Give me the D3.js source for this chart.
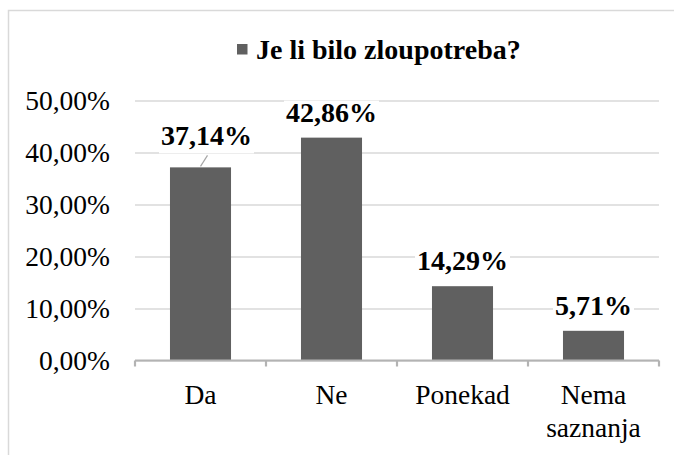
<!DOCTYPE html>
<html>
<head>
<meta charset="utf-8">
<script src="https://cdn.jsdelivr.net/npm/d3@7"></script>
<style>
  html, body { margin: 0; padding: 0; background: #fff; }
  svg { display: block; font-family: "Liberation Serif", "Times New Roman", serif; }
</style>
</head>
<body>
<div id="chart"></div>
<script>
// data
const categories = ["Da", "Ne", "Ponekad", "Nema saznanja"];
const values = [37.14, 42.86, 14.29, 5.71];
const yTicks = [0, 10, 20, 30, 40, 50];
const seriesName = "Je li bilo zloupotreba?";

const width = 674, height = 455;
const barColor = "#606060";

const fmt = v => d3.format(".2f")(v).replace(".", ",") + "%";

const svg = d3.select("#chart")
    .append("svg")
    .attr("width", width)
    .attr("height", height);

// outer chart border (runs off the right and bottom edges)
svg.append("rect")
    .attr("x", 8.5)
    .attr("y", 10.5)
    .attr("width", 700)
    .attr("height", 500)
    .attr("fill", "none")
    .attr("stroke", "#d9d9d9")
    .attr("stroke-width", 1.5);

const x = d3.scaleBand()
    .domain(categories)
    .range([135, 659])
    .paddingInner(0.534)
    .paddingOuter(0.267);

const y = d3.scaleLinear()
    .domain([0, 50])
    .range([360.5, 100.5]);

// gridlines + y labels
const yAxis = svg.append("g")
    .attr("transform", "translate(135,0)")
    .call(d3.axisLeft(y)
        .tickValues(yTicks)
        .tickSize(-(659 - 135))
        .tickFormat(fmt));
yAxis.select(".domain").remove();
yAxis.selectAll(".tick line")
    .attr("stroke", "#d9d9d9")
    .attr("stroke-width", 1.3);
yAxis.selectAll(".tick text")
    .attr("x", -25)
    .attr("dy", "0.34em")
    .attr("fill", "#000")
    .style("font-size", "27.5px")
    .style("font-family", "Liberation Serif, serif");

// bars
svg.append("g")
    .selectAll("rect")
    .data(values)
    .join("rect")
    .attr("x", (d, i) => x(categories[i]))
    .attr("y", d => y(d))
    .attr("width", x.bandwidth())
    .attr("height", d => y(0) - y(d))
    .attr("fill", barColor);

// x axis line with boundary ticks
const axisY = y(0);
svg.append("line")
    .attr("x1", 135)
    .attr("x2", 659)
    .attr("y1", axisY)
    .attr("y2", axisY)
    .attr("stroke", "#b3b3b3")
    .attr("stroke-width", 2.2);
svg.append("g")
    .selectAll("line")
    .data(d3.range(categories.length + 1))
    .join("line")
    .attr("x1", i => x.range()[0] + i * x.step())
    .attr("x2", i => x.range()[0] + i * x.step())
    .attr("y1", axisY)
    .attr("y2", axisY + 6)
    .attr("stroke", "#b3b3b3")
    .attr("stroke-width", 2.2);

// category labels (wrap on space for the long one)
svg.append("g")
    .selectAll("text")
    .data(categories)
    .join("text")
    .attr("x", d => x(d) + x.bandwidth() / 2)
    .attr("y", 404)
    .attr("text-anchor", "middle")
    .style("font-size", "27.5px")
    .each(function(d) {
        const words = d.split(" ");
        const t = d3.select(this);
        if (words.length > 1) {
            words.forEach((w, k) => {
                t.append("tspan")
                    .attr("x", x(d) + x.bandwidth() / 2)
                    .attr("dy", k === 0 ? 0 : 33)
                    .text(w);
            });
        } else {
            t.text(d);
        }
    });

// data labels; first one was moved up and right with a leader line
const labelShift = [{dx: 6, dy: -6}, {dx: 0, dy: 0}, {dx: 0, dy: 0}, {dx: 0, dy: 0}];
const labels = svg.append("g");
values.forEach(function(v, i) {
    const cx = x(categories[i]) + x.bandwidth() / 2 + labelShift[i].dx;
    const base = y(v) - 16 + labelShift[i].dy;
    const bg = labels.append("rect").attr("fill", "#fff");
    const t = labels.append("text")
        .attr("x", cx)
        .attr("y", base)
        .attr("text-anchor", "middle")
        .style("font-family", "Liberation Serif")
        .style("font-size", "28px")
        .style("font-weight", "bold")
        .text(fmt(v));
    const bb = t.node().getBBox();
    bg.attr("x", bb.x - 2)
        .attr("y", base - 21)
        .attr("width", bb.width + 4)
        .attr("height", 29);
    if (labelShift[i].dy !== 0) {
        labels.append("line")
            .attr("x1", cx + 1)
            .attr("y1", base + 10)
            .attr("x2", cx - 6)
            .attr("y2", y(v) - 1)
            .attr("stroke", "#a6a6a6")
            .attr("stroke-width", 1.2);
    }
});

// legend / title
const legend = svg.append("g");
legend.append("rect")
    .attr("x", 237)
    .attr("y", 44)
    .attr("width", 10.5)
    .attr("height", 10.5)
    .attr("fill", barColor);
legend.append("text")
    .attr("x", 256)
    .attr("y", 58.5)
    .style("font-family", "Liberation Serif")
    .style("font-size", "28px")
    .style("font-weight", "bold")
    .text(seriesName);
</script>
</body>
</html>
